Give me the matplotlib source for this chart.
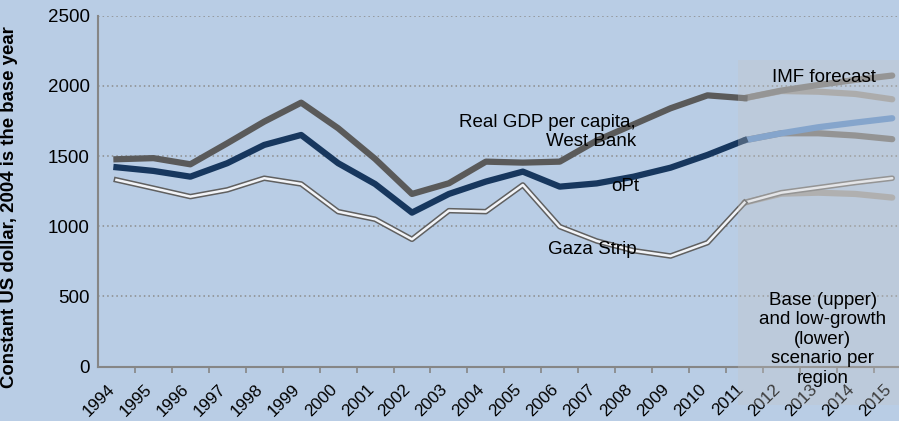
import matplotlib
matplotlib.use('Agg')
import matplotlib.pyplot as plt
from matplotlib.patches import Rectangle
from matplotlib.transforms import ScaledTranslation

plt.rcParams['font.family'] = ['Liberation Sans', 'DejaVu Sans']

# ==================== data ====================
years = [str(y) for y in range(1994, 2016)]

# historical 1994-2011
west_bank = [1477, 1485, 1441, 1591, 1745, 1880, 1698, 1480, 1230, 1306, 1460,
             1453, 1460, 1610, 1725, 1840, 1932, 1912]
opt = [1420, 1394, 1353, 1449, 1579, 1650, 1449, 1301, 1097, 1230, 1318,
       1389, 1282, 1305, 1353, 1417, 1508, 1612]
gaza = [1330, 1271, 1211, 1259, 1342, 1301, 1104, 1050, 907, 1111, 1104,
        1294, 997, 895, 826, 788, 883, 1168]

# forecasts 2011-2015: base (upper) / low-growth (lower)
wb_base = [1912, 1966, 2006, 2042, 2073]
wb_low = [1912, 1963, 1958, 1942, 1904]
opt_base = [1612, 1662, 1705, 1738, 1769]
opt_low = [1612, 1662, 1662, 1646, 1620]
gaza_base = [1168, 1239, 1275, 1311, 1342]
gaza_low = [1168, 1232, 1239, 1230, 1204]

BG = '#b9cde5'
hist_x = list(range(len(west_bank)))
fc_x = list(range(len(west_bank) - 1, len(years)))

fig = plt.figure(figsize=(8.99, 4.21), dpi=100, facecolor=BG)
ax = fig.add_axes([0.109, 0.129, 0.904, 0.834], facecolor=BG)

# --- forecast lines ---
ax.plot(fc_x, wb_low, color='#a3a3a3', lw=4.5, solid_capstyle='round', zorder=3)
ax.plot(fc_x, wb_base, color='#828282', lw=4.5, solid_capstyle='round', zorder=3.1)
ax.plot(fc_x, opt_low, color='#808080', lw=4.5, solid_capstyle='round', zorder=3)
ax.plot(fc_x, opt_base, color='#6b98d0', lw=4.5, solid_capstyle='round', zorder=3.1)
ax.plot(fc_x, gaza_low, color='#a8a8a8', lw=4.5, solid_capstyle='round', zorder=3)
ax.plot(fc_x, gaza_base, color='#808080', lw=4.0, solid_capstyle='round', zorder=3.1)
ax.plot(fc_x, gaza_base, color='#f2f4f8', lw=1.8, solid_capstyle='round', zorder=3.2)

# --- historical lines ---
ax.plot(hist_x, west_bank, color='#5a5a5a', lw=4.5, zorder=4)
ax.plot(hist_x, opt, color='#17375e', lw=4.5, zorder=4)
ax.plot(hist_x, gaza, color='#606060', lw=4.0, zorder=4)
ax.plot(hist_x, gaza, color='#f2f4f8', lw=1.8, zorder=4.1)

# forecast shading
ax.add_patch(Rectangle((16.82, -273), 6, 2184 + 273, facecolor='#c4c4c4',
                       alpha=0.3, edgecolor='none', clip_on=False, zorder=5))

ax.set_xlim(-0.5, len(years) - 0.5)
ax.set_ylim(0, 2500)
ax.set_yticks(range(0, 2501, 500))
ax.yaxis.grid(True, linestyle=(0, (1, 2)), color='#8c8c8c', lw=1.1)
ax.set_axisbelow(True)

ax.set_xticks(range(len(years)))
ax.set_xticks([i + 0.5 for i in range(len(years))], minor=True)
ax.tick_params(axis='x', which='major', length=0, pad=9)
ax.tick_params(axis='x', which='minor', length=4, color='#868686', width=1.2)
ax.tick_params(axis='y', length=0, labelsize=13.5, pad=6)
ax.set_xticklabels(years, rotation=45, ha='right', va='top',
                   rotation_mode='anchor', fontsize=12.3)
# shift the rotated labels so their ends sit under the category centres
shift = ScaledTranslation(-9 / 100, -2 / 100, fig.dpi_scale_trans)
for lab in ax.get_xticklabels():
    lab.set_transform(lab.get_transform() + shift)

for s in ['top', 'right']:
    ax.spines[s].set_visible(False)
for s in ['left', 'bottom']:
    ax.spines[s].set_color('#868686')
    ax.spines[s].set_linewidth(1.5)

ax.set_ylabel('Constant US dollar, 2004 is the base year', fontsize=13.4,
              fontweight='bold')
ax.yaxis.set_label_coords(-0.098, 0.454)

# annotations
ax.text(14.06, 1672, 'Real GDP per capita,\nWest Bank', ha='right', va='center',
        fontsize=13.5, linespacing=1.1, zorder=6)
ax.text(13.76, 1280, 'oPt', ha='center', va='center', fontsize=13.5, zorder=6)
ax.text(12.87, 831, 'Gaza Strip', ha='center', va='center', fontsize=13.5, zorder=6)
ax.text(19.15, 2056, 'IMF forecast', ha='center', va='center', fontsize=13.5, zorder=6)
ax.text(19.12, 195, 'Base (upper)\nand low-growth\n(lower)\nscenario per\nregion',
        ha='center', va='center', fontsize=13.5, linespacing=1.2, zorder=6)

fig.savefig('out.png', dpi=100, facecolor=BG)
